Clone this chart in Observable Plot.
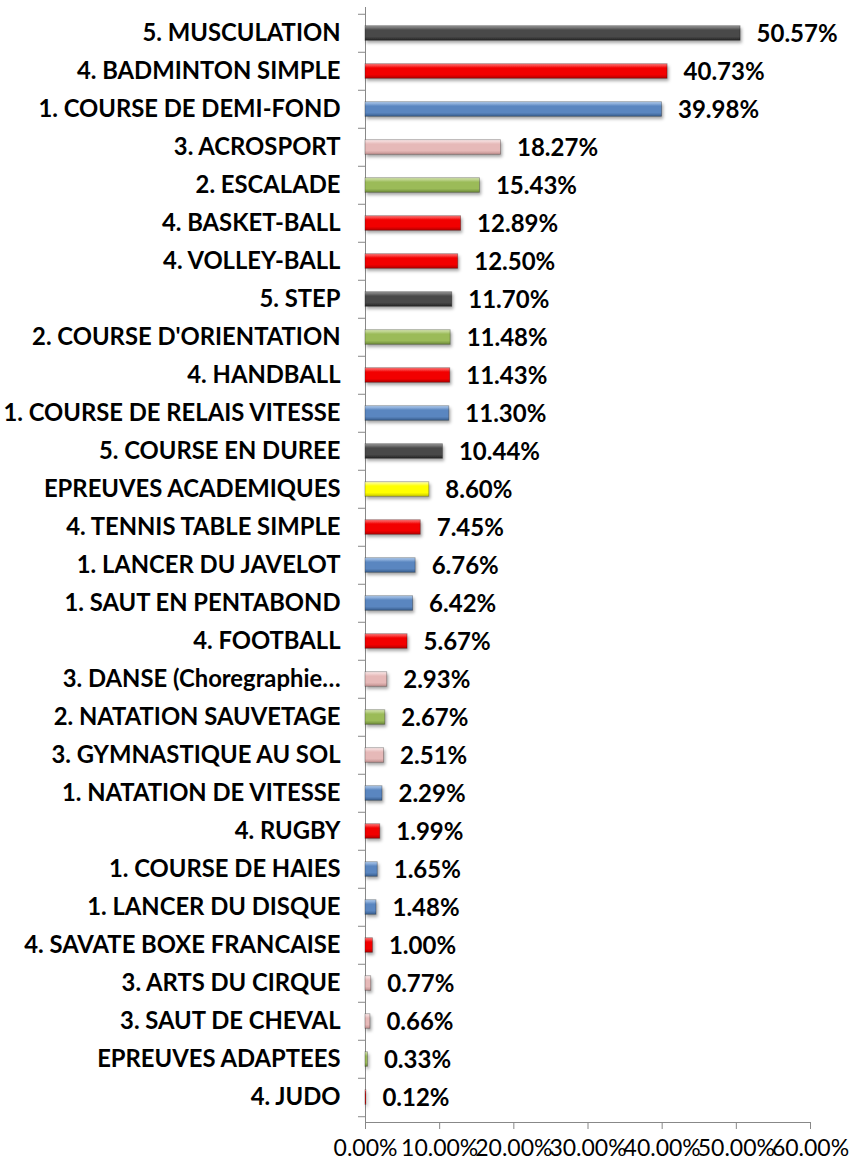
<!DOCTYPE html>
<html>
<head>
<meta charset="utf-8">
<script src="https://cdn.jsdelivr.net/npm/d3@7"></script>
<script src="https://cdn.jsdelivr.net/npm/@observablehq/plot@0.6"></script>
<style>
  html, body { margin: 0; padding: 0; background: #fff; }
  #chart svg { display: block; }
</style>
</head>
<body>
<div id="chart"></div>
<script>
const categories = [
  "5. MUSCULATION",
  "4. BADMINTON SIMPLE",
  "1. COURSE DE DEMI-FOND",
  "3. ACROSPORT",
  "2. ESCALADE",
  "4. BASKET-BALL",
  "4. VOLLEY-BALL",
  "5. STEP",
  "2. COURSE D'ORIENTATION",
  "4. HANDBALL",
  "1. COURSE DE RELAIS VITESSE",
  "5. COURSE EN DUREE",
  "EPREUVES ACADEMIQUES",
  "4. TENNIS TABLE SIMPLE",
  "1. LANCER DU JAVELOT",
  "1. SAUT EN PENTABOND",
  "4. FOOTBALL",
  "3. DANSE (Choregraphie\u2026",
  "2. NATATION SAUVETAGE",
  "3. GYMNASTIQUE AU SOL",
  "1. NATATION DE VITESSE",
  "4. RUGBY",
  "1. COURSE DE HAIES",
  "1. LANCER DU DISQUE",
  "4. SAVATE BOXE FRANCAISE",
  "3. ARTS DU CIRQUE",
  "3. SAUT DE CHEVAL",
  "EPREUVES ADAPTEES",
  "4. JUDO"
];
const values = [50.57, 40.73, 39.98, 18.27, 15.43, 12.89, 12.50, 11.70, 11.48, 11.43,
  11.30, 10.44, 8.60, 7.45, 6.76, 6.42, 5.67, 2.93, 2.67, 2.51,
  2.29, 1.99, 1.65, 1.48, 1.00, 0.77, 0.66, 0.33, 0.12];
const groups = ["5", "4", "1", "3", "2", "4", "4", "5", "2", "4",
  "1", "5", "A", "4", "1", "1", "4", "3", "2", "3",
  "1", "4", "1", "1", "4", "3", "3", "2", "4"];
const xTicks = [0, 10, 20, 30, 40, 50, 60];

const data = categories.map((c, i) => ({name: c, value: values[i], group: groups[i]}));

const W = 854, H = 1165;
const mTop = 7, mBottom = 43, mLeft = 365, mRight = 44;
const step = (H - mTop - mBottom) / categories.length;
const barH = 15;
const inset = (step - barH) / 2;

const groupKeys = ["1", "2", "3", "4", "5", "A"];
const gradStops = {
  "1": ["#b4cff0", "#5a86c0", "#3a5f8f"],
  "2": ["#d8e7b5", "#9bbb59", "#6e8b38"],
  "3": ["#fbeaea", "#e6b9b8", "#c29190"],
  "4": ["#ff7a7a", "#f20000", "#b40000"],
  "5": ["#9a9a9a", "#484848", "#262626"],
  "A": ["#ffffb8", "#ffff00", "#c9c900"]
};

const chart = Plot.plot({
  width: W,
  height: H,
  marginTop: mTop,
  marginBottom: mBottom,
  marginLeft: mLeft,
  marginRight: mRight,
  style: {fontFamily: "Lato, 'Open Sans', sans-serif", background: "#fff", color: "#000"},
  x: {domain: [0, 60]},
  y: {domain: categories, padding: 0},
  color: {type: "ordinal", domain: groupKeys, range: groupKeys.map(k => `url(#grad-${k})`)},
  marks: [
    // band boundary ticks on the y axis
    Plot.axisY({tickSize: 7, tickFormat: () => "", dy: -step / 2, stroke: "#888", label: null}),
    Plot.axisY({ticks: [categories[categories.length - 1]], tickSize: 7, tickFormat: () => "", dy: step / 2, stroke: "#888", label: null}),
    // category labels
    Plot.axisY({tickSize: 0, tickPadding: 25, fontSize: 23.8, fontWeight: "bold", label: null}),
    Plot.frame({anchor: "left", stroke: "#888"}),
    Plot.frame({anchor: "bottom", stroke: "#888"}),
    Plot.axisX({ticks: xTicks, tickSize: 7, tickPadding: 10, stroke: "#888", fontSize: 23,
      tickFormat: d => d.toFixed(2) + "%", label: null}),
    Plot.barX(data, {
      y: "name", x: "value", fill: "group",
      insetTop: inset, insetBottom: inset,
      stroke: "rgba(0,0,0,0.35)", strokeWidth: 0.8
    }),
    Plot.text(data, {
      y: "name", x: "value", text: d => d.value.toFixed(2) + "%",
      textAnchor: "start", dx: 16, dy: 1, fontSize: 24, fontWeight: "bold", fill: "#000"
    })
  ]
});

const svg = d3.select(chart);
const defs = svg.insert("defs", ":first-child");
for (const k of groupKeys) {
  const g = defs.append("linearGradient").attr("id", `grad-${k}`)
    .attr("x1", 0).attr("y1", 0).attr("x2", 0).attr("y2", 1);
  const s = gradStops[k];
  g.append("stop").attr("offset", "0%").attr("stop-color", s[0]);
  g.append("stop").attr("offset", "30%").attr("stop-color", s[1]);
  g.append("stop").attr("offset", "75%").attr("stop-color", s[1]);
  g.append("stop").attr("offset", "100%").attr("stop-color", s[2]);
}
const f = defs.append("filter").attr("id", "shadow").attr("x", "-10%").attr("y", "-50%")
  .attr("width", "120%").attr("height", "250%");
f.append("feDropShadow").attr("dx", 1.5).attr("dy", 2.5).attr("stdDeviation", 1.5)
  .attr("flood-color", "#000").attr("flood-opacity", 0.35);
svg.selectAll("g[aria-label='bar']").attr("filter", "url(#shadow)");

document.getElementById("chart").appendChild(chart);
</script>
</body>
</html>
